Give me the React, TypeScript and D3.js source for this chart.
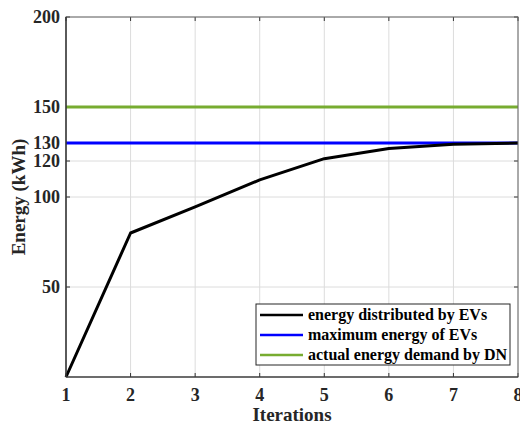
import React from "react";
import * as d3 from "d3";

const iterations = [1, 2, 3, 4, 5, 6, 7, 8];
const energyDistributed = [0, 80, 94.5, 109.5, 121.3, 127, 129.3, 130];
const maxEnergy = 130;
const actualDemand = 150;
const yTicks = [50, 100, 120, 130, 150, 200];
const xTicks = [1, 2, 3, 4, 5, 6, 7, 8];
const legendLabels = ["energy distributed by EVs", "maximum energy of EVs", "actual energy demand by DN"];
const colors = ["#000000", "#0000ff", "#77ac30"];

export default function App() {
  const W = 520, H = 424;
  const L = 66, R = 518, T = 17, B = 377;
  const x = d3.scaleLinear().domain([1, 8]).range([L, R]);
  const y = d3.scaleLinear().domain([0, 200]).range([B, T]);
  const line = d3.line<number>().x((_, i) => x(iterations[i])).y((d) => y(d));
  const font = "Liberation Serif, Times New Roman, serif";
  const tickLen = 4;
  return (
    <svg width={W} height={H} style={{ position: "absolute", left: 0, top: 0, background: "#fff", fontFamily: font }}>
      <rect x={0} y={0} width={W} height={H} fill="#fff" />
      {xTicks.map((t) => (
        <line key={"gx" + t} x1={x(t)} x2={x(t)} y1={T} y2={B} stroke="#dcdcdc" strokeWidth={1} />
      ))}
      {yTicks.map((t) => (
        <line key={"gy" + t} x1={L} x2={R} y1={y(t)} y2={y(t)} stroke="#dcdcdc" strokeWidth={1} />
      ))}
      {xTicks.map((t) => (
        <g key={"tx" + t}>
          <line x1={x(t)} x2={x(t)} y1={B} y2={B - tickLen} stroke="#333" />
          <line x1={x(t)} x2={x(t)} y1={T} y2={T + tickLen} stroke="#333" />
        </g>
      ))}
      {yTicks.map((t) => (
        <g key={"ty" + t}>
          <line x1={L} x2={L + tickLen} y1={y(t)} y2={y(t)} stroke="#333" />
          <line x1={R} x2={R - tickLen} y1={y(t)} y2={y(t)} stroke="#333" />
        </g>
      ))}
      <line x1={L} x2={R} y1={y(actualDemand)} y2={y(actualDemand)} stroke={colors[2]} strokeWidth={3} />
      <line x1={L} x2={R} y1={y(maxEnergy)} y2={y(maxEnergy)} stroke={colors[1]} strokeWidth={3} />
      <path d={line(energyDistributed) || ""} fill="none" stroke={colors[0]} strokeWidth={3} strokeLinejoin="round" />
      <rect x={L} y={T} width={R - L} height={B - T} fill="none" stroke="#666" strokeWidth={1} />
      <line x1={L} x2={L} y1={T} y2={B} stroke="#262626" strokeWidth={1.2} />
      <line x1={L} x2={R} y1={B} y2={B} stroke="#262626" strokeWidth={1.2} />
      {yTicks.map((t) => (
        <text key={"ly" + t} x={L - 6} y={y(t)} dy="0.33em" textAnchor="end" fontSize={18} fontWeight="bold" fill="#262626">
          {t}
        </text>
      ))}
      {xTicks.map((t) => (
        <text key={"lx" + t} x={x(t)} y={401} textAnchor="middle" fontSize={18} fontWeight="bold" fill="#262626">
          {t}
        </text>
      ))}
      <text x={(L + R) / 2} y={421} textAnchor="middle" fontSize={19} fontWeight="bold" fill="#262626">
        Iterations
      </text>
      <text transform={`translate(25,${(T + B) / 2}) rotate(-90)`} textAnchor="middle" fontSize={19} fontWeight="bold" fill="#262626">
        Energy (kWh)
      </text>
      <rect x={256} y={304} width={254} height={61} fill="#fff" stroke="#262626" strokeWidth={1} />
      {legendLabels.map((lab, i) => (
        <g key={lab}>
          <line x1={260} x2={303} y1={315 + i * 20} y2={315 + i * 20} stroke={colors[i]} strokeWidth={2.5} />
          <text x={308} y={315 + i * 20} dy="0.33em" fontSize={16} fontWeight="bold" fill="#000">
            {lab}
          </text>
        </g>
      ))}
    </svg>
  );
}
